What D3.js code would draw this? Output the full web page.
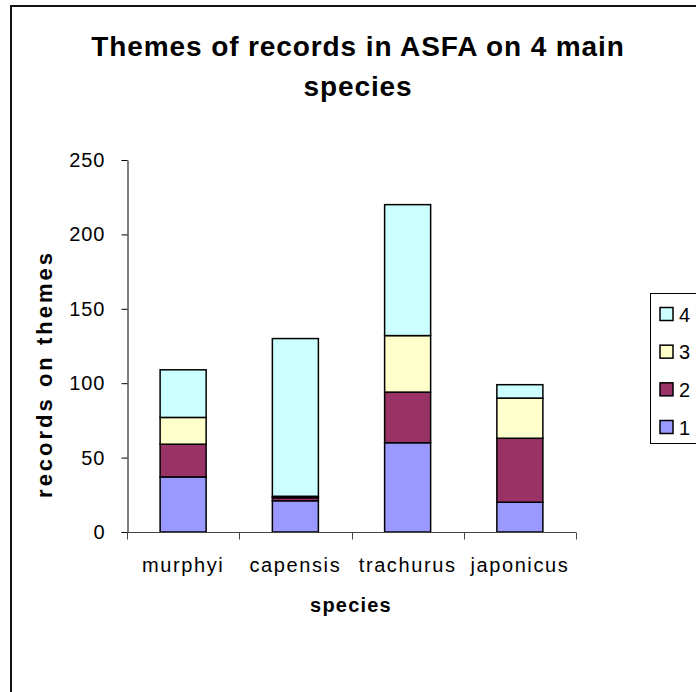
<!DOCTYPE html>
<html>
<head>
<meta charset="utf-8">
<script src="https://cdn.jsdelivr.net/npm/d3@7"></script>
<style>
  html, body { margin: 0; padding: 0; background: #fff; }
  svg { display: block; font-family: "Liberation Sans", Arial, sans-serif; }
</style>
</head>
<body>
<svg id="chart" width="696" height="692"></svg>
<script>
// Records per theme for the four main species
const categories = ["murphyi", "capensis", "trachurus", "japonicus"];
const theme1 = [37, 21, 60, 20];
const theme2 = [22, 2, 34, 43];
const theme3 = [18, 1, 38, 27];
const theme4 = [32, 106, 88, 9];
const seriesNames = ["1", "2", "3", "4"];
const seriesColors = ["#9999FF", "#993366", "#FFFFCC", "#CCFFFF"];
const yTicks = [0, 50, 100, 150, 200, 250];

const svg = d3.select("#chart");

// chart frame (runs off the right and bottom edges)
svg.append("rect")
  .attr("x", 11).attr("y", 6).attr("width", 900).attr("height", 900)
  .attr("fill", "#fff").attr("stroke", "#111").attr("stroke-width", 2);

const plot = { left: 127, right: 576, top: 160, bottom: 532 };

const x = d3.scaleBand()
  .domain(categories)
  .range([plot.left, plot.right])
  .paddingInner(0.59)
  .paddingOuter(0.295);

const y = d3.scaleLinear().domain([0, 250]).range([plot.bottom, plot.top]);

// stack the series
const table = categories.map((c, i) => ({
  cat: c, "1": theme1[i], "2": theme2[i], "3": theme3[i], "4": theme4[i]
}));
const stacked = d3.stack().keys(seriesNames)(table);
const color = d3.scaleOrdinal().domain(seriesNames).range(seriesColors);

svg.append("g").selectAll("g")
  .data(stacked)
  .join("g")
  .attr("fill", d => color(d.key))
  .selectAll("rect")
  .data(d => d)
  .join("rect")
  .attr("x", d => x(d.data.cat))
  .attr("width", x.bandwidth())
  .attr("y", d => y(d[1]))
  .attr("height", d => y(d[0]) - y(d[1]))
  .attr("stroke", "#000")
  .attr("stroke-width", 1.5);

// y axis
const yAxis = svg.append("g")
  .attr("transform", `translate(${plot.left + 0.5},0)`)
  .call(d3.axisLeft(y).tickValues(yTicks).tickSize(6).tickSizeOuter(0).tickPadding(16));
yAxis.select(".domain").attr("stroke", "#000");
yAxis.selectAll(".tick line").attr("stroke", "#000");
yAxis.selectAll(".tick text")
  .attr("font-family", "Liberation Sans, Arial, sans-serif")
  .attr("font-size", 20)
  .attr("letter-spacing", 1)
  .attr("fill", "#000");

// x axis: labels at band centres, ticks at band boundaries
const xAxis = svg.append("g")
  .attr("transform", `translate(0,${plot.bottom + 0.5})`)
  .call(d3.axisBottom(x).tickSize(0).tickSizeOuter(0).tickPadding(25));
xAxis.select(".domain").attr("stroke", "#444").attr("d", `M${plot.left},0H${plot.right}`);
xAxis.selectAll(".tick text")
  .attr("font-family", "Liberation Sans, Arial, sans-serif")
  .attr("font-size", 20)
  .attr("letter-spacing", 1.6)
  .attr("fill", "#000");
const half = (x.step() - x.bandwidth()) / 2;
const bounds = categories.map(c => x(c) - half).concat([x(categories[categories.length - 1]) + x.bandwidth() + half]);
xAxis.selectAll("line.bound")
  .data(bounds)
  .join("line")
  .attr("class", "bound")
  .attr("x1", d => Math.round(d) + 0.5).attr("x2", d => Math.round(d) + 0.5)
  .attr("y1", 0).attr("y2", 7)
  .attr("stroke", "#444");

// axis titles
svg.append("text")
  .attr("x", 351).attr("y", 612)
  .attr("text-anchor", "middle")
  .attr("font-weight", "bold").attr("font-size", 20).attr("letter-spacing", 1.2)
  .text("species");

svg.append("text")
  .attr("transform", "translate(52,374) rotate(-90)")
  .attr("text-anchor", "middle")
  .attr("font-weight", "bold").attr("font-size", 22).attr("letter-spacing", 3)
  .text("records on themes");

// title
const title = svg.append("text")
  .attr("text-anchor", "middle")
  .attr("font-weight", "bold").attr("font-size", 28).attr("letter-spacing", 0.9);
title.append("tspan").attr("x", 358).attr("y", 56).text("Themes of records in ASFA on 4 main");
title.append("tspan").attr("x", 358).attr("y", 96).text("species");

// legend
const legend = svg.append("g");
legend.append("rect")
  .attr("x", 650.5).attr("y", 293.5).attr("width", 100).attr("height", 150)
  .attr("fill", "#fff").attr("stroke", "#000").attr("stroke-width", 1);
const legendOrder = seriesNames.slice().reverse();
const ly = d3.scalePoint().domain(legendOrder).range([314, 427]);
const items = legend.selectAll("g.item")
  .data(legendOrder)
  .join("g")
  .attr("class", "item")
  .attr("transform", d => `translate(0,${ly(d)})`);
items.append("rect")
  .attr("x", 660).attr("y", -6.5).attr("width", 13).attr("height", 13)
  .attr("fill", d => color(d)).attr("stroke", "#000").attr("stroke-width", 1.5);
items.append("text")
  .attr("x", 679).attr("y", 7.5)
  .attr("font-size", 20)
  .text(d => d);
</script>
</body>
</html>
